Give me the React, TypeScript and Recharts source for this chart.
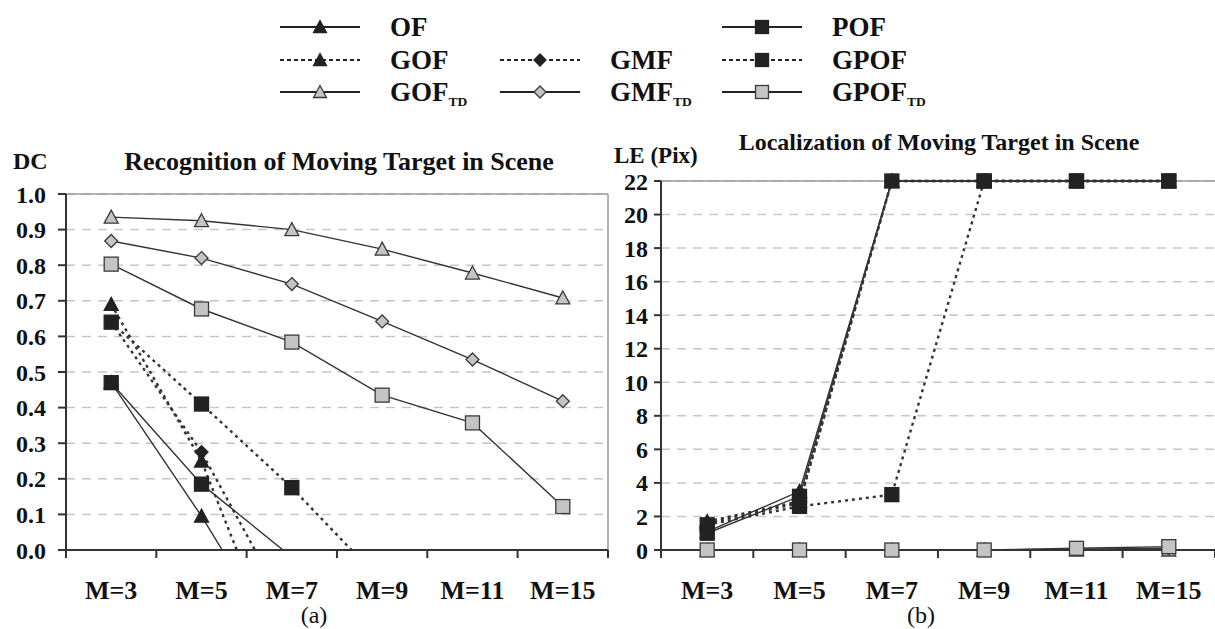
import React from 'react';
import {
  LineChart,
  Line,
  XAxis,
  YAxis,
  CartesianGrid,
  ReferenceLine,
} from 'recharts';

// window size (M) for each column
const categories = ['M=3', 'M=5', 'M=7', 'M=9', 'M=11', 'M=15'];

// DC values, panel (a). Values below 0 fall outside the plot and get clipped
const dcOF = [0.47, 0.095, -0.32, null, null, null];
const dcGOF = [0.69, 0.25, -0.39, null, null, null];
const dcGMF = [0.64, 0.275, -0.19, null, null, null];
const dcPOF = [0.47, 0.185, -0.02, null, null, null];
const dcGPOF = [0.64, 0.41, 0.175, -0.09, null, null];
const dcGOFTD = [0.935, 0.925, 0.9, 0.845, 0.778, 0.708];
const dcGMFTD = [0.868, 0.82, 0.747, 0.642, 0.535, 0.418];
const dcGPOFTD = [0.803, 0.677, 0.584, 0.435, 0.357, 0.122];

// localization error in pixels, panel (b)
const leOF = [1.1, 3.5, 22, 22, 22, 22];
const leGOF = [1.7, 2.9, 22, 22, 22, 22];
const leGMF = [1.6, 2.8, 22, 22, 22, 22];
const lePOF = [1.0, 3.2, 22, 22, 22, 22];
const leGPOF = [1.5, 2.6, 3.3, 22, 22, 22];
const leGOFTD = [0, 0, 0, 0, 0, 0];
const leGMFTD = [0, 0, 0, 0, 0.05, 0.1];
const leGPOFTD = [0, 0, 0, 0, 0.1, 0.2];

const dcTicks = [0, 0.1, 0.2, 0.3, 0.4, 0.5, 0.6, 0.7, 0.8, 0.9, 1.0];
const leTicks = [0, 2, 4, 6, 8, 10, 12, 14, 16, 18, 20, 22];

type Shape = 'triangle' | 'diamond' | 'square';

// drawing order: later entries sit on top
const series: { key: string; shape: Shape; gray: boolean; dashed: boolean }[] = [
  { key: 'OF', shape: 'triangle', gray: false, dashed: false },
  { key: 'GOF', shape: 'triangle', gray: false, dashed: true },
  { key: 'GMF', shape: 'diamond', gray: false, dashed: true },
  { key: 'POF', shape: 'square', gray: false, dashed: false },
  { key: 'GPOF', shape: 'square', gray: false, dashed: true },
  { key: 'GOF_TD', shape: 'triangle', gray: true, dashed: false },
  { key: 'GMF_TD', shape: 'diamond', gray: true, dashed: false },
  { key: 'GPOF_TD', shape: 'square', gray: true, dashed: false },
];

const legendRows = [
  ['OF', null, 'POF'],
  ['GOF', 'GMF', 'GPOF'],
  ['GOF_TD', 'GMF_TD', 'GPOF_TD'],
];

const dcData = categories.map((m, i) => ({
  m,
  OF: dcOF[i],
  GOF: dcGOF[i],
  GMF: dcGMF[i],
  POF: dcPOF[i],
  GPOF: dcGPOF[i],
  GOF_TD: dcGOFTD[i],
  GMF_TD: dcGMFTD[i],
  GPOF_TD: dcGPOFTD[i],
}));

const leData = categories.map((m, i) => ({
  m,
  OF: leOF[i],
  GOF: leGOF[i],
  GMF: leGMF[i],
  POF: lePOF[i],
  GPOF: leGPOF[i],
  GOF_TD: leGOFTD[i],
  GMF_TD: leGMFTD[i],
  GPOF_TD: leGPOFTD[i],
}));

const FONT = 'Tinos, "Times New Roman", Times, "Liberation Serif", "DejaVu Serif", serif';
const DARK = '#222';
const GRAY = '#c4c4c4';

function Marker({ shape, gray, cx, cy, r = 7 }: { shape: Shape; gray: boolean; cx: number; cy: number; r?: number }) {
  const fill = gray ? GRAY : DARK;
  const stroke = gray ? '#3a3a3a' : DARK;
  if (shape === 'square') {
    return <rect x={cx - r} y={cy - r} width={r * 2} height={r * 2} fill={fill} stroke={stroke} strokeWidth={1.3} />;
  }
  if (shape === 'diamond') {
    const d = r - 0.5;
    return (
      <polygon
        points={`${cx},${cy - d} ${cx + d},${cy} ${cx},${cy + d} ${cx - d},${cy}`}
        fill={fill}
        stroke={stroke}
        strokeWidth={1.3}
      />
    );
  }
  return (
    <polygon
      points={`${cx},${cy - r} ${cx + r},${cy + r - 1} ${cx - r},${cy + r - 1}`}
      fill={fill}
      stroke={stroke}
      strokeWidth={1.3}
    />
  );
}

function makeDot(shape: Shape, gray: boolean, min: number) {
  return (p: any) => {
    const key = `dot-${p.index}`;
    if (p.value == null || p.value < min || p.cx == null || p.cy == null) return <g key={key} />;
    return (
      <g key={key}>
        <Marker shape={shape} gray={gray} cx={p.cx} cy={p.cy} />
      </g>
    );
  };
}

function CategoryTick(props: any) {
  const { x, y, payload, index, half } = props;
  const last = index === categories.length - 1;
  return (
    <g>
      <line x1={x - half} x2={x - half} y1={y} y2={y + 8} stroke="#333" strokeWidth={2} />
      {last && <line x1={x + half} x2={x + half} y1={y} y2={y + 8} stroke="#333" strokeWidth={2} />}
      <text x={x} y={y + 49} textAnchor="middle" fontFamily={FONT} fontWeight="bold" fontSize={26} fill="#111">
        {payload.value}
      </text>
    </g>
  );
}

function Label({ name, size }: { name: string; size: number }) {
  const [base, sub] = name.split('_');
  return (
    <span>
      {base}
      {sub && (
        <span style={{ fontSize: size * 0.5, position: 'relative', top: size * 0.18 }}>{sub}</span>
      )}
    </span>
  );
}

function Legend() {
  const colSample = [280, 500, 722];
  const colLabel = [390, 610, 832];
  const rowY = [27, 60, 92];
  return (
    <>
      {legendRows.map((row, r) =>
        row.map((name, c) => {
          if (!name) return null;
          const s = series.find((d) => d.key === name)!;
          return (
            <React.Fragment key={name}>
              <svg
                width={80}
                height={24}
                style={{ position: 'absolute', left: colSample[c], top: rowY[r] - 12 }}
              >
                <line
                  x1={0}
                  x2={80}
                  y1={12}
                  y2={12}
                  stroke={DARK}
                  strokeWidth={2.2}
                  strokeDasharray={s.dashed ? '4 3' : undefined}
                />
                <Marker shape={s.shape} gray={s.gray} cx={40} cy={12} r={6.5} />
              </svg>
              <div
                style={{
                  position: 'absolute',
                  left: colLabel[c],
                  top: rowY[r] - 16,
                  fontFamily: FONT,
                  fontWeight: 'bold',
                  fontSize: 27,
                  lineHeight: '32px',
                  color: '#111',
                  whiteSpace: 'nowrap',
                }}
              >
                <Label name={name} size={27} />
              </div>
            </React.Fragment>
          );
        })
      )}
    </>
  );
}

const tickStyle = { fontFamily: FONT, fontWeight: 'bold', fontSize: 24, fill: '#111' };

function renderLines(min: number) {
  return series.map((s) => (
    <Line
      key={s.key}
      dataKey={s.key}
      type="linear"
      stroke="#333"
      strokeWidth={s.dashed ? 2.4 : 1.4}
      strokeDasharray={s.dashed ? '3 4' : undefined}
      dot={makeDot(s.shape, s.gray, min)}
      activeDot={false}
      isAnimationActive={false}
      connectNulls={false}
    />
  ));
}

const text = (extra: React.CSSProperties): React.CSSProperties => ({
  position: 'absolute',
  fontFamily: FONT,
  color: '#111',
  whiteSpace: 'nowrap',
  ...extra,
});

export default function App() {
  return (
    <div style={{ position: 'absolute', left: 0, top: 0, width: 1215, height: 629, background: '#fff', overflow: 'hidden' }}>
      <Legend />

      {/* (a) recognition */}
      <div style={{ position: 'absolute', left: 0, top: 0 }}>
        <LineChart width={620} height={629} data={dcData} margin={{ top: 194, right: 12, bottom: 29, left: 6 }}>
          <CartesianGrid vertical={false} stroke="#c6c6c6" strokeDasharray="9 7" strokeWidth={1.5} />
          <CartesianGrid horizontal={false} verticalPoints={[608]} stroke="#999" strokeWidth={1.5} />
          <ReferenceLine y={1} stroke="#999" strokeWidth={1.5} />
          <XAxis
            dataKey="m"
            height={50}
            padding={{ left: 45.2, right: 45.2 }}
            tickSize={0}
            tickMargin={0}
            tickLine={false}
            axisLine={{ stroke: '#333', strokeWidth: 2 }}
            interval={0}
            tick={(p: any) => <CategoryTick {...p} half={45.2} />}
          />
          <YAxis
            width={60}
            domain={[0, 1]}
            allowDataOverflow
            ticks={dcTicks}
            interval={0}
            tickFormatter={(v: number) => v.toFixed(1)}
            tick={tickStyle}
            tickSize={8}
            tickMargin={12}
            tickLine={{ stroke: '#333', strokeWidth: 2 }}
            axisLine={{ stroke: '#333', strokeWidth: 2 }}
          />
          {renderLines(0)}
        </LineChart>
      </div>

      {/* (b) localization */}
      <div style={{ position: 'absolute', left: 600, top: 0 }}>
        <LineChart width={615} height={629} data={leData} margin={{ top: 181, right: 0, bottom: 29, left: 6 }}>
          <CartesianGrid vertical={false} stroke="#c6c6c6" strokeDasharray="9 7" strokeWidth={1.5} />
          <ReferenceLine y={22} stroke="#999" strokeWidth={1.5} />
          <XAxis
            dataKey="m"
            height={50}
            padding={{ left: 46.2, right: 46.2 }}
            tickSize={0}
            tickMargin={0}
            tickLine={false}
            axisLine={{ stroke: '#333', strokeWidth: 2 }}
            interval={0}
            tick={(p: any) => <CategoryTick {...p} half={46.2} />}
          />
          <YAxis
            width={55}
            domain={[0, 22]}
            ticks={leTicks}
            interval={0}
            tick={tickStyle}
            tickSize={7}
            tickMargin={6}
            tickLine={{ stroke: '#333', strokeWidth: 2 }}
            axisLine={{ stroke: '#333', strokeWidth: 2 }}
          />
          {renderLines(-1)}
        </LineChart>
      </div>

      <div style={text({ left: 13, top: 148, fontSize: 24, fontWeight: 'bold' })}>DC</div>
      <div style={text({ left: 339, top: 147, fontSize: 26, fontWeight: 'bold', transform: 'translateX(-50%)' })}>
        Recognition of Moving Target in Scene
      </div>
      <div style={text({ left: 614, top: 143, fontSize: 23, fontWeight: 'bold' })}>LE (Pix)</div>
      <div style={text({ left: 939, top: 129, fontSize: 24, fontWeight: 'bold', transform: 'translateX(-50%)' })}>
        Localization of Moving Target in Scene
      </div>
      <div style={text({ left: 314, top: 602, fontSize: 24, transform: 'translateX(-50%)' })}>(a)</div>
      <div style={text({ left: 921, top: 602, fontSize: 24, transform: 'translateX(-50%)' })}>(b)</div>
    </div>
  );
}
